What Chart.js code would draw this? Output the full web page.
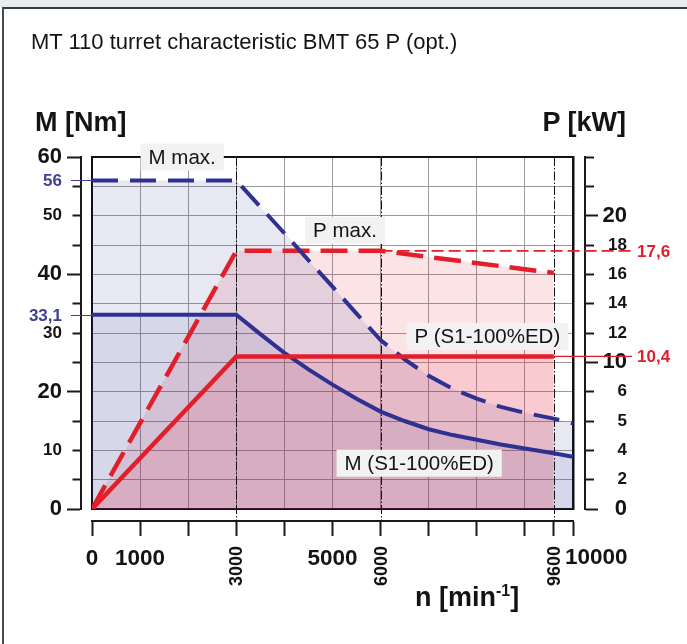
<!DOCTYPE html>
<html>
<head>
<meta charset="utf-8">
<title>MT 110 turret characteristic BMT 65 P (opt.)</title>
<script src="https://cdn.jsdelivr.net/npm/chart.js@4/dist/chart.umd.min.js"></script>
<style>
  html, body { margin: 0; padding: 0; width: 687px; height: 644px; overflow: hidden; background: #fff;
    font-family: "Liberation Sans", Arial, Helvetica, sans-serif; color: #141414; }
  #band { position: absolute; left: 0; top: 0; width: 687px; height: 7px; background: #e9ecef; }
  #frame { position: absolute; left: 2px; top: 7px; width: 720px; height: 700px;
    border-top: 2px solid #3a3a3a; border-left: 2px solid #4a4a4a; }
  #chart { position: absolute; left: 0; top: 0; z-index: 1; }
  .t { position: absolute; white-space: nowrap; z-index: 2; }
  #title { left: 31px; top: 31px; font-size: 22px; line-height: 22px; }
  .axis-title { font-size: 27px; line-height: 27px; font-weight: bold; }
  #mTitle { left: 35px; top: 109px; }
  #pTitle { right: 61px; top: 109px; }
  #nTitle { left: 415px; top: 584px; }
  #nTitle sup { font-size: 16px; vertical-align: baseline; position: relative; top: -10px; }
</style>
</head>
<body>
<div id="band"></div>
<div id="frame"></div>
<div class="t" id="title">MT 110 turret characteristic BMT 65 P (opt.)</div>
<div class="t axis-title" id="mTitle">M [Nm]</div>
<div class="t axis-title" id="pTitle">P [kW]</div>
<div class="t axis-title" id="nTitle">n [min<sup>-1</sup>]</div>
<canvas id="chart" width="687" height="644"></canvas>
<script>
// Speed points (min^-1) for the torque curves
const N_TORQUE = [0, 3000, 3500, 4000, 4500, 5000, 5500, 6000, 6500, 7000, 7500, 8000, 8500, 9000, 9600, 10000];
// Maximum torque M max. (Nm)
const M_MAX = [56, 56, 51.5, 47, 42.4, 37.9, 33.3, 28.8, 25.5, 22.7, 20.5, 18.8, 17.4, 16.4, 15.4, 14.6];
// Continuous torque M (S1-100%ED) (Nm)
const M_S1 = [33.1, 33.1, 29.8, 26.6, 23.8, 21.2, 18.8, 16.6, 15.0, 13.6, 12.6, 11.8, 11.0, 10.3, 9.5, 8.9];

// Speed points (min^-1) for the power curves
const N_POWER = [0, 3000, 6000, 9600];
// Maximum power P max. (kW)
const P_MAX = [0, 17.6, 17.6, 16.1];
// Continuous power P (S1-100%ED) (kW)
const P_S1 = [0, 10.4, 10.4, 10.4];

// Axis ticks and labels
const N_TICKS = [0, 1000, 2000, 3000, 4000, 5000, 6000, 7000, 8000, 9000, 9600, 10000];
const N_TICK_LABELS = ["0", "1000", "", "", "", "5000", "", "", "", "", "", ""];
const N_UPRIGHT_TICKS = [3000, 6000, 9600];     // speeds labelled vertically
const N_END_LABEL = "10000";
const M_TICK_LABELS = ["0", "", "10", "", "20", "", "30", "", "40", "", "50", "", "60"];
const P_TICK_LABELS = ["0", "2", "4", "5", "6", "10", "12", "14", "16", "18", "20", "", ""];

// Marked values on the side axes
const M_MARKS = [56, 33.1];
const P_MARKS = [17.6, 10.4];

const FONT = '"Liberation Sans", Arial, Helvetica, sans-serif';
const BLUE = '#2e3192';
const BLUE_TEXT = '#3d3f93';
const RED = '#e31e2b';
const INK = '#141414';

const pts = (xs, ys) => xs.map((x, i) => ({ x, y: ys[i] }));
const fmt = v => String(v).replace('.', ',');

// Curve captions, anchored in data units (speed, torque)
const CAPTIONS = [
  { text: 'M max.', n: 1875, m: 60 },
  { text: 'P max.', n: 5260, m: 47.5 },
  { text: 'P (S1-100%ED)', n: 8219, m: 29.4 },
  { text: 'M (S1-100%ED)', n: 6802, m: 7.8 },
];

const decorations = {
  id: 'decorations',
  beforeDatasetsDraw(chart) {
    // dash-dot guide lines at the corner speeds
    const { ctx, chartArea, scales } = chart;
    ctx.save();
    ctx.strokeStyle = '#111';
    ctx.lineWidth = 1;
    ctx.setLineDash([9, 2, 1.5, 2]);
    for (const n of N_UPRIGHT_TICKS) {
      const px = Math.round(scales.x.getPixelForValue(n)) + 0.5;
      ctx.beginPath();
      ctx.moveTo(px, chartArea.top);
      ctx.lineTo(px, scales.xB.top);
      ctx.stroke();
    }
    ctx.restore();
  },
  afterDatasetsDraw(chart) {
    const { ctx, chartArea, scales } = chart;
    const yL = scales.yL, yP = scales.yP, x = scales.x;
    ctx.save();
    ctx.lineWidth = 1;
    // torque marks: thin lines from the left axis to the plot
    ctx.strokeStyle = BLUE_TEXT;
    for (const m of M_MARKS) {
      const py = Math.round(yL.getPixelForValue(m)) + 0.5;
      ctx.beginPath();
      ctx.moveTo(yL.right - 10, py);
      ctx.lineTo(chartArea.left, py);
      ctx.stroke();
    }
    // power marks: thin lines out to the right-hand labels
    ctx.strokeStyle = RED;
    const starts = [6000, 9600];
    P_MARKS.forEach((p, i) => {
      const py = yP.getPixelForValue(p);
      ctx.lineWidth = i === 0 ? 1.6 : 1.3;
      ctx.setLineDash(i === 0 ? [12, 5] : []);
      ctx.beginPath();
      ctx.moveTo(x.getPixelForValue(starts[i]), py);
      ctx.lineTo(yP.right + 5, py);
      ctx.stroke();
    });
    ctx.restore();
  },
  afterDraw(chart) {
    const { ctx, scales } = chart;
    const yL = scales.yL, yP = scales.yP, x = scales.x, y = scales.y, xB = scales.xB;
    ctx.save();
    ctx.textBaseline = 'middle';
    // mark values
    ctx.font = 'bold 17px ' + FONT;
    ctx.fillStyle = BLUE_TEXT;
    ctx.textAlign = 'right';
    for (const m of M_MARKS) ctx.fillText(fmt(m), yL.right - 19, yL.getPixelForValue(m) + 1);
    ctx.fillStyle = RED;
    ctx.textAlign = 'left';
    for (const p of P_MARKS) ctx.fillText(fmt(p), yP.right + 10, yP.getPixelForValue(p) + 1);

    // vertical speed labels
    ctx.fillStyle = INK;
    ctx.font = 'bold 18px ' + FONT;
    for (const n of N_UPRIGHT_TICKS) {
      ctx.save();
      ctx.translate(xB.getPixelForValue(n) + 1, xB.top + 25);
      ctx.rotate(-Math.PI / 2);
      ctx.textAlign = 'right';
      ctx.fillText(String(n), 0, 0);
      ctx.restore();
    }
    ctx.font = 'bold 22.5px ' + FONT;
    ctx.textAlign = 'left';
    ctx.fillText(N_END_LABEL, xB.getPixelForValue(10000) - 8, xB.top + 37);

    // curve captions on light boxes
    ctx.font = '20.5px ' + FONT;
    ctx.textAlign = 'center';
    for (const c of CAPTIONS) {
      const cx = x.getPixelForValue(c.n), cy = y.getPixelForValue(c.m);
      const w = ctx.measureText(c.text).width + 16, h = 27;
      ctx.fillStyle = '#f2f2f2';
      ctx.fillRect(cx - w / 2, cy - h / 2, w, h);
      ctx.fillStyle = INK;
      ctx.fillText(c.text, cx, cy + 1);
    }
    ctx.restore();
  }
};

const tickFont = (big, small, majors) => ctx => ({
  family: FONT, weight: 'bold',
  size: ctx.tick && majors.includes(ctx.tick.value) ? big : small
});

new Chart(document.getElementById('chart'), {
  type: 'line',
  data: {
    datasets: [
      { label: 'P (S1-100%ED)', data: pts(N_POWER, P_S1), xAxisID: 'x', yAxisID: 'yP',
        borderColor: RED, borderWidth: 4.5, fill: 'origin', backgroundColor: 'rgba(228,32,52,0.13)' },
      { label: 'M max.', data: pts(N_TORQUE, M_MAX), xAxisID: 'x', yAxisID: 'y',
        borderColor: BLUE, borderWidth: 4, borderDash: [26, 12], fill: 'origin', backgroundColor: 'rgba(40,50,140,0.11)' },
      { label: 'M (S1-100%ED)', data: pts(N_TORQUE, M_S1), xAxisID: 'x', yAxisID: 'y',
        borderColor: BLUE, borderWidth: 4, fill: 'origin', backgroundColor: 'rgba(40,50,140,0.09)' },
      { label: 'P max.', data: pts(N_POWER, P_MAX), xAxisID: 'x', yAxisID: 'yP',
        borderColor: RED, borderWidth: 4.5, borderDash: [27, 11], fill: 'origin', backgroundColor: 'rgba(228,32,52,0.12)' },
    ]
  },
  options: {
    responsive: false,
    animation: false,
    devicePixelRatio: 1,
    events: [],
    layout: { padding: { top: 157, left: 0, right: 60, bottom: 53 } },
    elements: { point: { radius: 0 }, line: { tension: 0, borderCapStyle: 'butt' } },
    plugins: {
      legend: { display: false },
      tooltip: { enabled: false },
      filler: { drawTime: 'beforeDatasetsDraw' }
    },
    scales: {
      // plot grid (speed) with the frame's bottom edge
      x: {
        type: 'linear', position: 'bottom', weight: 0, min: 0, max: 10000,
        ticks: { display: false, stepSize: 1000 },
        grid: { color: '#9b9b9b', lineWidth: 1, drawTicks: false },
        border: { display: true, color: '#111', width: 2 },
        afterFit: s => { s.height = 12; }
      },
      // speed axis with ticks and labels
      xB: {
        type: 'linear', position: 'bottom', weight: 1, min: 0, max: 10000,
        afterBuildTicks: s => { s.ticks = N_TICKS.map(v => ({ value: v })); },
        ticks: { autoSkip: false, maxRotation: 0, minRotation: 0, padding: 9, color: INK,
          font: { family: FONT, weight: 'bold', size: 22.5 },
          callback: (v, i) => N_TICK_LABELS[i] },
        grid: { drawOnChartArea: false, drawTicks: true, tickLength: 15, tickWidth: 2, tickColor: '#1a1a1a' },
        border: { display: true, color: '#1a1a1a', width: 2 },
        afterFit: s => { s.height = 70; }
      },
      // frame top edge
      xTop: {
        type: 'linear', position: 'top', min: 0, max: 10000,
        ticks: { display: false },
        grid: { drawOnChartArea: false, drawTicks: false },
        border: { display: true, color: '#111', width: 2 },
        afterFit: s => { s.height = 0; }
      },
      // plot grid (torque) with the frame's left edge
      y: {
        type: 'linear', position: 'left', weight: 0, min: 0, max: 60,
        ticks: { display: false, stepSize: 5 },
        grid: { color: '#9b9b9b', lineWidth: 1, drawTicks: false },
        border: { display: true, color: '#111', width: 2 },
        afterFit: s => { s.width = 11; }
      },
      // torque axis M [Nm]
      yL: {
        type: 'linear', position: 'left', weight: 1, min: 0, max: 60,
        ticks: { stepSize: 5, padding: 5, color: INK, autoSkip: false,
          font: tickFont(22, 17, [0, 20, 40, 60]),
          callback: (v, i) => M_TICK_LABELS[i] },
        grid: { drawOnChartArea: false, drawTicks: true, tickLength: 14, tickWidth: 2, tickColor: '#1a1a1a',
          tickBorderDash: ctx => (ctx.tick && [0, 20, 40, 60].includes(ctx.tick.value)) ? [] : [0, 5.5, 9, 60] },
        border: { display: true, color: '#1a1a1a', width: 2 },
        afterFit: s => { s.width = 81; }
      },
      // frame right edge
      yR: {
        type: 'linear', position: 'right', weight: 0, min: 0, max: 60,
        ticks: { display: false },
        grid: { drawOnChartArea: false, drawTicks: false },
        border: { display: true, color: '#111', width: 2.5 },
        afterFit: s => { s.width = 12; }
      },
      // power axis P [kW]
      yP: {
        type: 'linear', position: 'right', weight: 1, min: 0, max: 24,
        ticks: { stepSize: 2, padding: 4, color: INK, crossAlign: 'far', autoSkip: false,
          font: tickFont(22, 17, [0, 10, 20]),
          callback: (v, i) => P_TICK_LABELS[i] },
        grid: { drawOnChartArea: false, drawTicks: true, tickLength: 13, tickWidth: 2, tickColor: '#1a1a1a',
          tickBorderDash: ctx => (ctx.tick && [0, 10, 20].includes(ctx.tick.value)) ? [] : [8, 60] },
        border: { display: true, color: '#1a1a1a', width: 2 },
        afterFit: s => { s.width = 42; }
      }
    }
  },
  plugins: [decorations]
});
</script>
</body>
</html>
